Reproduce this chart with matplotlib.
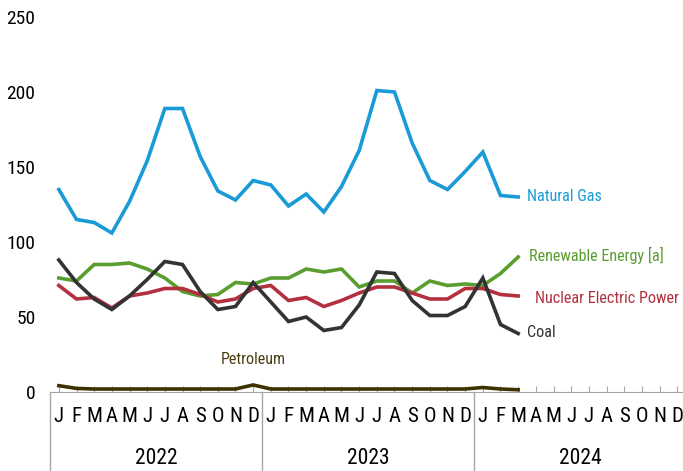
import matplotlib.pyplot as plt
import matplotlib.transforms as mtransforms
from matplotlib import font_manager

# pick a condensed sans font, close to Arial Narrow
names = {f.name for f in font_manager.fontManager.ttflist}
prefs = ['Liberation Sans Narrow', 'Arial Narrow', 'Roboto Condensed', 'Archivo Narrow',
         'Open Sans Condensed', 'Barlow Semi Condensed', 'Liberation Sans']
FONT = next(p for p in prefs if p in names)
plt.rcParams['font.family'] = [FONT, 'DejaVu Sans']

# monthly values, Jan 2022 - Mar 2024
natural_gas = [135, 115, 113, 106, 127, 154, 189, 189, 157, 134, 128, 141,
               138, 124, 132, 120, 137, 161, 201, 200, 166, 141, 135, 147,
               160, 131, 130]
coal = [88, 73, 62, 55, 64, 75, 87, 85, 67, 55, 57, 73,
        60, 47, 50, 41, 43, 58, 80, 79, 61, 51, 51, 57,
        76, 45, 39]
renewable = [76, 74, 85, 85, 86, 82, 76, 67, 64, 65, 73, 72,
             76, 76, 82, 80, 82, 70, 74, 74, 66, 74, 71, 72,
             71, 79, 90]
nuclear = [71, 62, 63, 56, 64, 66, 69, 69, 65, 60, 62, 69,
           71, 61, 63, 57, 61, 66, 70, 70, 66, 62, 62, 69,
           69, 65, 64]
petroleum = [4.2, 2.4, 2, 2, 2, 2, 2, 2, 2, 2, 2, 4.7,
             2, 2, 2, 2, 2, 2, 2, 2, 2, 2, 2, 2,
             3, 2, 1.5]

month_letters = ['J', 'F', 'M', 'A', 'M', 'J', 'J', 'A', 'S', 'O', 'N', 'D']
years = ['2022', '2023', '2024']

series = [
    (natural_gas, '#1a9ad7', 'Natural Gas', 26.5, 130.5, 'left'),
    (renewable, '#5a9e2f', 'Renewable Energy [a]', 26.6, 91, 'left'),
    (nuclear, '#b3303f', 'Nuclear Electric Power', 26.95, 62.5, 'left'),
    (coal, '#333333', 'Coal', 26.5, 39.5, 'left'),
    (petroleum, '#3d3200', 'Petroleum', 11.0, 21.5, 'center'),
]

fig = plt.figure(figsize=(6.83, 4.71), dpi=100)
ax = fig.add_axes([50 / 683, 79 / 471, 636 / 683, 375 / 471])

for vals, color, name, lx, ly, ha in series:
    ax.plot(range(len(vals)), vals, color=color, lw=2.6, solid_joinstyle='miter', zorder=3)
    txt_color = '#4a3f12' if name == 'Petroleum' else color
    ax.text(lx, ly, name, color=txt_color, fontsize=11.6, ha=ha, va='center')

ax.set_xlim(-0.5, 35.5)
ax.set_ylim(0, 250)
ax.set_yticks(range(0, 251, 50))
ax.tick_params(axis='y', length=0, pad=10.5, labelsize=14)
ax.set_xticks(range(36))
ax.set_xticklabels(month_letters * 3)
ax.tick_params(axis='x', direction='in', length=4, color='#a6a6a6', pad=11, labelsize=15)
for s in ['top', 'right', 'left']:
    ax.spines[s].set_visible(False)
ax.spines['bottom'].set_color('#a6a6a6')

# year separators and labels below the axis
trans = mtransforms.blended_transform_factory(ax.transData, ax.transAxes)
for i in range(4):
    ax.plot([12 * i - 0.5] * 2, [0, -0.22], transform=trans, color='#a6a6a6',
            lw=1, clip_on=False)
for i, yr in enumerate(years):
    ax.text(12 * i + 5.5, -0.178, yr, transform=trans, ha='center', va='center',
            fontsize=15.5)

fig.savefig('out.png', dpi=100)
